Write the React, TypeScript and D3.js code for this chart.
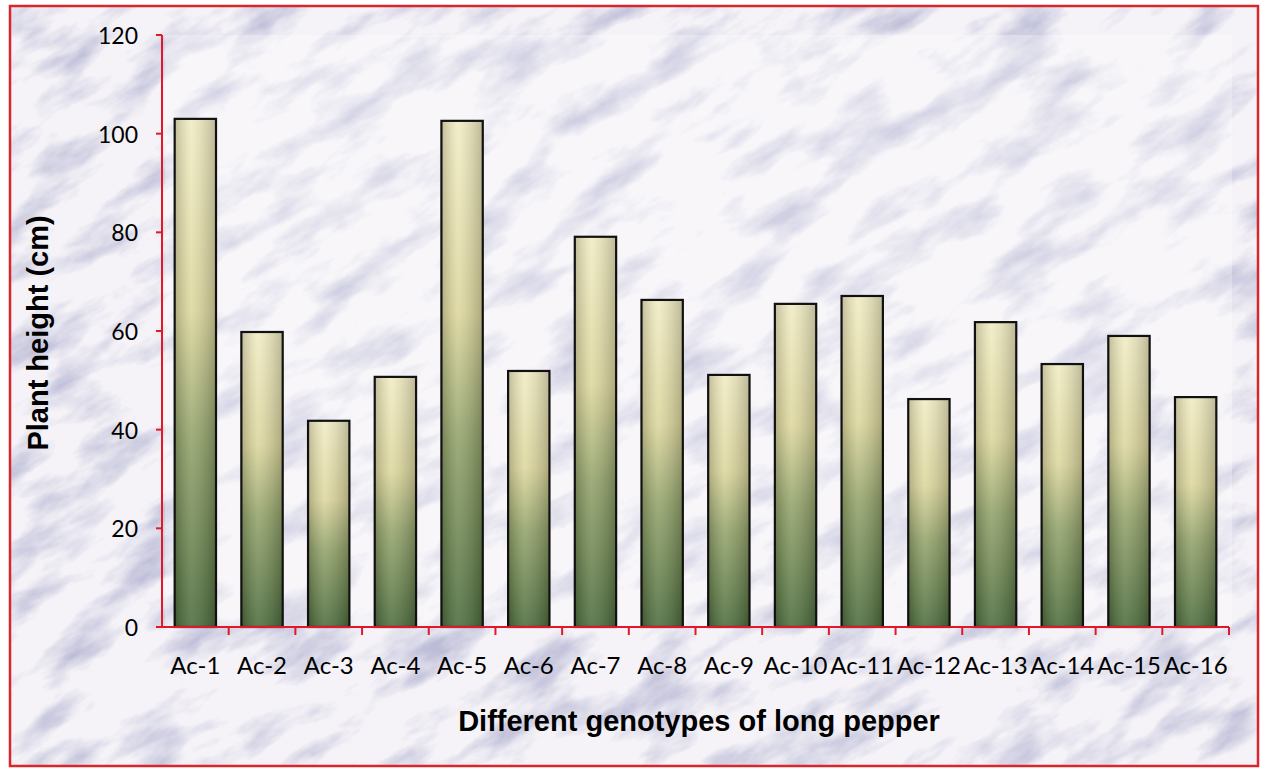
import React from "react";
import * as d3 from "d3";

// Plant height of long pepper genotypes
const genotypes = [
  "Ac-1", "Ac-2", "Ac-3", "Ac-4", "Ac-5", "Ac-6", "Ac-7", "Ac-8",
  "Ac-9", "Ac-10", "Ac-11", "Ac-12", "Ac-13", "Ac-14", "Ac-15", "Ac-16",
];
const plantHeight = [
  103.0, 59.8, 41.8, 50.7, 102.6, 51.9, 79.1, 66.3,
  51.1, 65.5, 67.1, 46.2, 61.8, 53.3, 59.0, 46.6,
];
const yTicks = [0, 20, 40, 60, 80, 100, 120];

const W = 1263;
const H = 772;
const margin = { left: 162, right: 34, top: 35, bottom: 145 };

export default function App() {
  const x = d3
    .scaleBand<string>()
    .domain(genotypes)
    .range([margin.left, W - margin.right])
    .paddingInner(0.38)
    .paddingOuter(0.19);
  const y = d3.scaleLinear().domain([0, 120]).range([H - margin.bottom, margin.top]);
  const step = x.step();
  const x0 = margin.left;
  const x1 = W - margin.right;
  const yBase = y(0);
  const boundaries = genotypes.map((_, i) => x0 + step * (i + 1));

  return (
    <svg
      width={W}
      height={H}
      style={{ position: "absolute", left: 0, top: 0 }}
      fontFamily="Lato, 'Open Sans', sans-serif"
    >
      <defs>
        <filter id="marble" x="-50%" y="-50%" width="200%" height="200%">
          <feTurbulence type="fractalNoise" baseFrequency="0.011 0.028" numOctaves="5" seed="11" />
          <feColorMatrix
            type="matrix"
            values="0 0 0 0 0.50  0 0 0 0 0.50  0 0 0 0 0.68  2.6 0 0 0 -1.2"
          />
        </filter>
        <linearGradient id="barFill" x1="0" y1="0" x2="0" y2="1">
          <stop offset="0%" stopColor="#f1ecc2" />
          <stop offset="38%" stopColor="#dcd69c" />
          <stop offset="62%" stopColor="#93a36a" />
          <stop offset="100%" stopColor="#4b6b3b" />
        </linearGradient>
        <linearGradient id="barShade" x1="0" y1="0" x2="1" y2="0">
          <stop offset="0%" stopColor="#000" stopOpacity="0.2" />
          <stop offset="40%" stopColor="#fff" stopOpacity="0.12" />
          <stop offset="100%" stopColor="#000" stopOpacity="0.22" />
        </linearGradient>
        <clipPath id="frameClip">
          <rect x={10} y={6} width={1248} height={760} />
        </clipPath>
      </defs>

      <rect x={0} y={0} width={W} height={H} fill="#ffffff" />
      <g clipPath="url(#frameClip)">
        <rect x={10} y={6} width={1248} height={760} fill="#f5f3f7" />
        <g transform="rotate(-30 630 386)">
          <rect x={-300} y={-300} width={1900} height={1400} filter="url(#marble)" />
        </g>
        <rect
          x={x0 + 3}
          y={margin.top}
          width={x1 - x0}
          height={yBase - margin.top}
          fill="#ffffff"
          opacity={0.3}
        />
      </g>
      <rect x={10} y={6} width={1248} height={760} fill="none" stroke="#d8262c" strokeWidth={2.5} />

      {/* bars */}
      {genotypes.map((g, i) => {
        const bx = x(g)!;
        const by = y(plantHeight[i]);
        const bw = x.bandwidth();
        const bh = yBase - by;
        return (
          <g key={g}>
            <rect x={bx} y={by} width={bw} height={bh} fill="url(#barFill)" />
            <rect x={bx} y={by} width={bw} height={bh} fill="url(#barShade)" />
            <rect x={bx} y={by} width={bw} height={bh} fill="none" stroke="#111" strokeWidth={2.2} />
          </g>
        );
      })}

      {/* y axis */}
      <line x1={x0} x2={x0} y1={margin.top} y2={yBase} stroke="#e0182a" strokeWidth={2} />
      {yTicks.map((t) => (
        <g key={t}>
          <line x1={x0 - 6} x2={x0} y1={y(t)} y2={y(t)} stroke="#e0182a" strokeWidth={2} />
          <text
            x={x0 - 24}
            y={y(t)}
            textAnchor="end"
            dominantBaseline="central"
            fontSize={23}
            fill="#000"
          >
            {t}
          </text>
        </g>
      ))}

      {/* x axis */}
      <line x1={x0} x2={x1} y1={yBase} y2={yBase} stroke="#e0182a" strokeWidth={2} />
      {boundaries.map((bx, i) => (
        <line key={i} x1={bx} x2={bx} y1={yBase} y2={yBase + 8} stroke="#e0182a" strokeWidth={2} />
      ))}
      {genotypes.map((g) => (
        <text
          key={g}
          x={x(g)! + x.bandwidth() / 2}
          y={674}
          textAnchor="middle"
          fontSize={24}
          fill="#000"
        >
          {g}
        </text>
      ))}

      <text
        transform={`translate(48 ${(margin.top + yBase) / 2 + 2}) rotate(-90)`}
        textAnchor="middle"
        fontFamily="'Liberation Sans', Arial, sans-serif"
        fontWeight="bold"
        fontSize={29}
        fill="#000"
      >
        Plant height (cm)
      </text>
      <text
        x={699}
        y={731}
        textAnchor="middle"
        fontFamily="'Liberation Sans', Arial, sans-serif"
        fontWeight="bold"
        fontSize={29}
        fill="#000"
      >
        Different genotypes of long pepper
      </text>
    </svg>
  );
}
